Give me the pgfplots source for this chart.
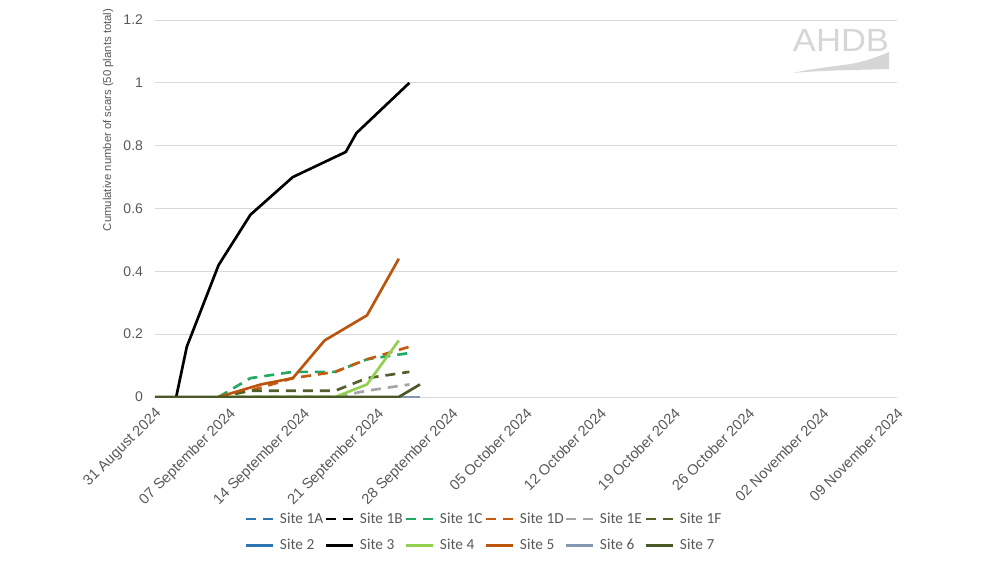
\documentclass[border=0pt]{standalone}
\usepackage{pgfplots}
\pgfplotsset{compat=1.18}
\usepackage{fontspec}
\setmainfont{Liberation Sans}
\newfontfamily\legendfont{Carlito}
\definecolor{tickc}{HTML}{595959}
\definecolor{gridc}{HTML}{D9D9D9}
\definecolor{logo}{HTML}{D6D6D6}
\definecolor{cA}{HTML}{2E75B6}
\definecolor{cC}{RGB}{33,170,100}
\definecolor{cD}{HTML}{C55A11}
\definecolor{cE}{HTML}{A5A5A5}
\definecolor{cF}{RGB}{84,94,42}
\definecolor{c2}{HTML}{2E75B6}
\definecolor{c4}{HTML}{92D050}
\definecolor{c5}{RGB}{187,84,12}
\definecolor{c6}{HTML}{8497B0}
\definecolor{c7}{RGB}{72,88,38}
\newcommand{\legbox}[1]{\makebox[28.75pt][l]{#1}}
\begin{document}
\begin{tikzpicture}
\useasboundingbox (0,0) rectangle (750pt,-430.5pt);
\begin{scope}[x=0.75pt,y=-0.75pt]
\fill[logo] (793,73) .. controls (825,66) and (845,66) .. (860,62) .. controls (872,59) and (882,55) .. (889,52) -- (889,69) .. controls (860,70) and (825,70) .. (793,73) -- cycle;
\node[text=logo, font=\fontsize{24}{24}\selectfont, inner sep=0pt, xscale=1.08] at (841,40) {AHDB};
\end{scope}
\begin{axis}[
  at={(116.25pt,-297.75pt)}, anchor=south west,
  width=556.5pt, height=282.75pt, scale only axis,
  xmin=0, xmax=70, ymin=0, ymax=1.2,
  enlargelimits=false,
  axis line style={draw=none},
  tick style={draw=none},
  ymajorgrids, grid style={color=gridc, line width=0.75pt},
  xtick={0,7,14,21,28,35,42,49,56,63,70},
  xticklabels={31 August 2024,07 September 2024,14 September 2024,21 September 2024,28 September 2024,05 October 2024,12 October 2024,19 October 2024,26 October 2024,02 November 2024,09 November 2024},
  ytick={0,0.2,0.4,0.6,0.8,1,1.2},
  yticklabels={0,0.2,0.4,0.6,0.8,1,1.2},
  tick label style={font=\fontsize{10.5}{12}\selectfont, text=tickc},
  yticklabel style={xshift=-5.5pt},
  xticklabel style={font=\fontsize{11}{12}\selectfont, yshift=-7pt, xshift=-0.5pt, rotate=45, anchor=north east, inner sep=0pt},
  ylabel={Cumulative number of scars (50 plants total)},
  ylabel style={at={(axis description cs:-0.063,0.735)}, anchor=center, font=\fontsize{8.5}{10}\selectfont, text=tickc},
  every axis plot/.append style={line width=2pt, line join=round},
  legend columns=6,
  legend cell align=left,
  legend image code/.code={\draw[#1] (0pt,0pt) -- (20.25pt,0pt);},
  legend style={draw=none, fill=none, at={(axis description cs:0.1146,-0.292)}, anchor=north west,
    font=\legendfont\fontsize{11.5}{13}\selectfont, text=tickc,
    nodes={inner xsep=4.5pt, inner ysep=2pt},
    /tikz/column sep=0pt, /tikz/row sep=6.5pt},
]
\addplot[cA, dash pattern=on 7.5pt off 5.25pt] coordinates {(6,0) (9,0) (13,0) (17,0) (20,0) (24,0)};
\addlegendentry{\legbox{Site 1A}}
\addplot[black, dash pattern=on 7.5pt off 5.25pt] coordinates {(6,0) (9,0) (13,0) (17,0) (20,0) (24,0)};
\addlegendentry{\legbox{Site 1B}}
\addplot[cC, dash pattern=on 7.5pt off 5.25pt] coordinates {(6,0) (9,0.06) (13,0.08) (17,0.08) (20,0.12) (24,0.14)};
\addlegendentry{\legbox{Site 1C}}
\addplot[cD, dash pattern=on 7.5pt off 5.25pt] coordinates {(6,0) (9,0.02) (13,0.06) (17,0.08) (20,0.12) (24,0.16)};
\addlegendentry{\legbox{Site 1D}}
\addplot[cE, dash pattern=on 7.5pt off 5.25pt] coordinates {(6,0) (9,0) (13,0) (17,0) (20,0.02) (24,0.04)};
\addlegendentry{\legbox{Site 1E}}
\addplot[cF, dash pattern=on 7.5pt off 5.25pt] coordinates {(6,0) (9,0.02) (13,0.02) (17,0.02) (20,0.06) (24,0.08)};
\addlegendentry{\legbox{Site 1F}}
\addplot[c2] coordinates {(0,0) (3,0) (6,0) (10,0) (13,0) (17,0) (20,0) (25,0)};
\addlegendentry{\legbox{Site 2}}
\addplot[black] coordinates {(2,0) (3,0.16) (6,0.42) (9,0.58) (13,0.70) (18,0.78) (19,0.84) (24,1.0)};
\addlegendentry{\legbox{Site 3}}
\addplot[c4] coordinates {(6,0) (10,0) (13,0) (17,0) (20,0.04) (23,0.18)};
\addlegendentry{\legbox{Site 4}}
\addplot[c5] coordinates {(6,0) (10,0.04) (13,0.06) (16,0.18) (20,0.26) (23,0.44)};
\addlegendentry{\legbox{Site 5}}
\addplot[c6] coordinates {(0,0) (3,0) (6,0) (10,0) (13,0) (17,0) (20,0) (25,0)};
\addlegendentry{\legbox{Site 6}}
\addplot[c7] coordinates {(0,0) (3,0) (6,0) (10,0) (13,0) (17,0) (20,0) (23,0) (25,0.04)};
\addlegendentry{\legbox{Site 7}}
\end{axis}
\end{tikzpicture}
\end{document}
